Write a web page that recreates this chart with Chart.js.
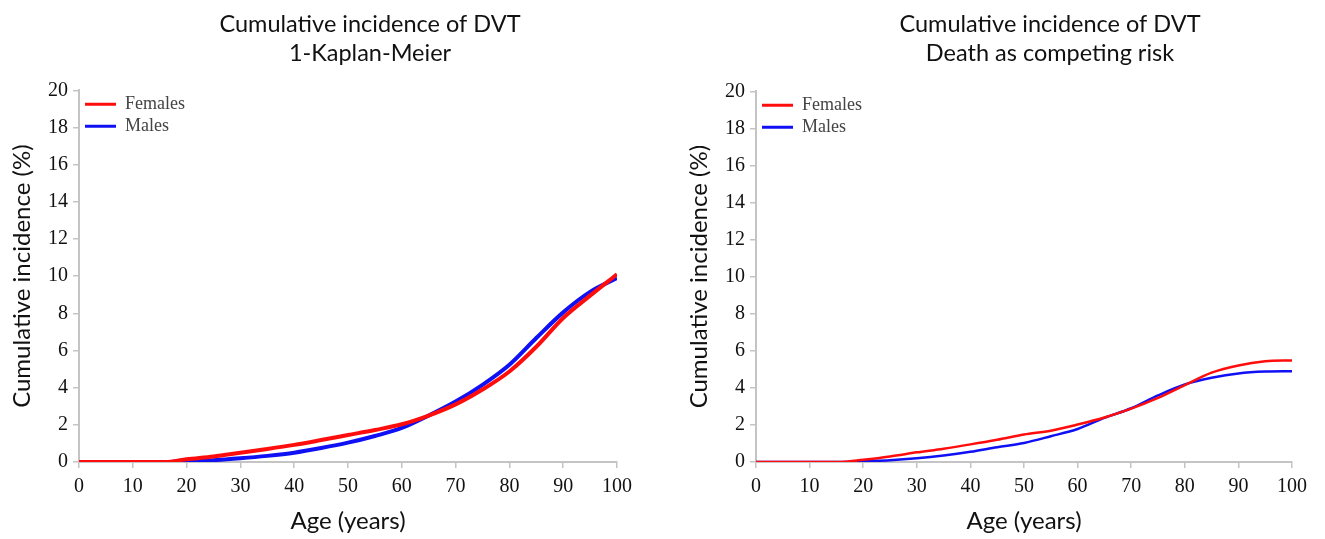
<!DOCTYPE html>
<html><head><meta charset="utf-8">
<script src="https://cdn.jsdelivr.net/npm/chart.js@4.4.1/dist/chart.umd.min.js"></script>
<style>
html,body{margin:0;padding:0;background:#fff;overflow:hidden;width:1325px;height:539px;position:relative;}
canvas{position:absolute;top:0;}
#c1{left:0;}
#c2{left:677px;}
</style></head><body>
<canvas id="c1" width="740" height="539"></canvas>
<canvas id="c2" width="746" height="539"></canvas>
<script>
// Age (years)
const ages = [0, 5, 10, 15, 16, 20, 25, 30, 35, 40, 45, 50, 55, 60, 65, 70, 75, 80, 85, 90, 95, 100];
// Left panel: 1-Kaplan-Meier (%)
const kmFemales = [0, 0, 0, 0, 0, 0.15, 0.3, 0.5, 0.7, 0.92, 1.18, 1.45, 1.72, 2.03, 2.5, 3.1, 3.9, 4.87, 6.2, 7.75, 8.95, 10.1];
const kmMales   = [0, 0, 0, 0, 0, 0.05, 0.1, 0.2, 0.33, 0.5, 0.75, 1.04, 1.4, 1.83, 2.5, 3.25, 4.15, 5.23, 6.67, 8.05, 9.15, 9.9];
// Right panel: death as competing risk (%)
const crFemales = [0, 0, 0, 0, 0, 0.12, 0.3, 0.52, 0.72, 0.95, 1.2, 1.48, 1.69, 2.02, 2.4, 2.88, 3.46, 4.15, 4.82, 5.21, 5.43, 5.48];
const crMales   = [0, 0, 0, 0, 0, 0.05, 0.1, 0.2, 0.35, 0.55, 0.8, 1.03, 1.39, 1.78, 2.38, 2.9, 3.59, 4.18, 4.54, 4.78, 4.88, 4.9];
// Axis ticks
const xTicks = [0, 10, 20, 30, 40, 50, 60, 70, 80, 90, 100];
const yTicks = [0, 2, 4, 6, 8, 10, 12, 14, 16, 18, 20];
const seriesNames = ['Females', 'Males'];
const titleLeft = ['Cumulative incidence of DVT', '1-Kaplan-Meier'];
const titleRight = ['Cumulative incidence of DVT', 'Death as competing risk'];
const xTitle = 'Age (years)';
const yTitle = 'Cumulative incidence (%)';

const RED = '#ff0d0d', BLUE = '#1010f5', AXIS = '#c4c4c4';
const SANS = 'Lato', SERIF = 'Liberation Serif';

function pts(vals) { return ages.map((a, i) => ({x: a, y: vals[i]})); }

// keep the legend (position: chartArea) at the top-left corner of the plot area
const legendInPlot = {
  id: 'legendInPlot',
  afterLayout(chart) {
    const l = chart.legend;
    if (!l) return;
    const h = l.height;
    l.top = chart.chartArea.top + 1;
    l.bottom = l.top + h;
    l.left = chart.chartArea.left + 2;
  }
};

function makeChart(id, titles, fem, mal, lw, rightW, titlePad) {
  return new Chart(document.getElementById(id), {
    type: 'line',
    data: {
      datasets: [
        {label: seriesNames[0], data: pts(fem), borderColor: RED, backgroundColor: RED, borderWidth: lw,
         pointRadius: 0, cubicInterpolationMode: 'monotone', fill: false},
        {label: seriesNames[1], data: pts(mal), borderColor: BLUE, backgroundColor: BLUE, borderWidth: lw,
         pointRadius: 0, cubicInterpolationMode: 'monotone', fill: false}
      ]
    },
    plugins: [legendInPlot],
    options: {
      responsive: false, animation: false, events: [],
      layout: {padding: 0},
      plugins: {
        tooltip: {enabled: false},
        title: {display: true, text: titles, color: '#111',
          font: {family: SANS, size: 23.5, weight: 'normal', lineHeight: 1.24},
          padding: titlePad},
        legend: {position: 'chartArea', align: 'start',
          labels: {boxWidth: 31, boxHeight: 3, padding: 4, color: '#444',
            font: {family: SERIF, size: 18},
            generateLabels: chart => Chart.defaults.plugins.legend.labels.generateLabels(chart)
              .map(it => Object.assign(it, {lineWidth: 0}))}}
      },
      scales: {
        x: {type: 'linear', min: 0, max: 100,
          afterFit: s => { s.height = 77; },
          afterBuildTicks: s => { s.ticks = xTicks.map(v => ({value: v})); },
          ticks: {color: '#111', padding: 7, maxRotation: 0, autoSkip: false,
            font: {family: SERIF, size: 20}},
          grid: {drawOnChartArea: false, drawTicks: true, tickLength: 6, color: AXIS, lineWidth: 1.5},
          border: {color: AXIS, width: 2},
          title: {display: true, text: xTitle, color: '#111',
            font: {family: SANS, size: 24}, padding: {top: 0, bottom: 3}}},
        y: {type: 'linear', min: 0, max: 20,
          afterFit: s => { s.width = 79; },
          afterBuildTicks: s => { s.ticks = yTicks.map(v => ({value: v})); },
          ticks: {color: '#111', padding: 5, autoSkip: false,
            font: {family: SERIF, size: 20}},
          grid: {drawOnChartArea: false, drawTicks: true, tickLength: 6, color: AXIS, lineWidth: 1.5},
          border: {color: AXIS, width: 2},
          title: {display: true, text: yTitle, color: '#111',
            font: {family: SANS, size: 24}, padding: {top: 8, bottom: 0}}},
        yPad: {type: 'linear', position: 'right', display: true,
          afterFit: s => { s.width = rightW; },
          ticks: {display: false}, grid: {display: false}, border: {display: false}}
      }
    }
  });
}

makeChart('c1', titleLeft, kmFemales, kmMales, 4, 123, {top: 10, bottom: 22});
makeChart('c2', titleRight, crFemales, crMales, 2.5, 131, {top: 10, bottom: 23});
</script>
</body></html>
